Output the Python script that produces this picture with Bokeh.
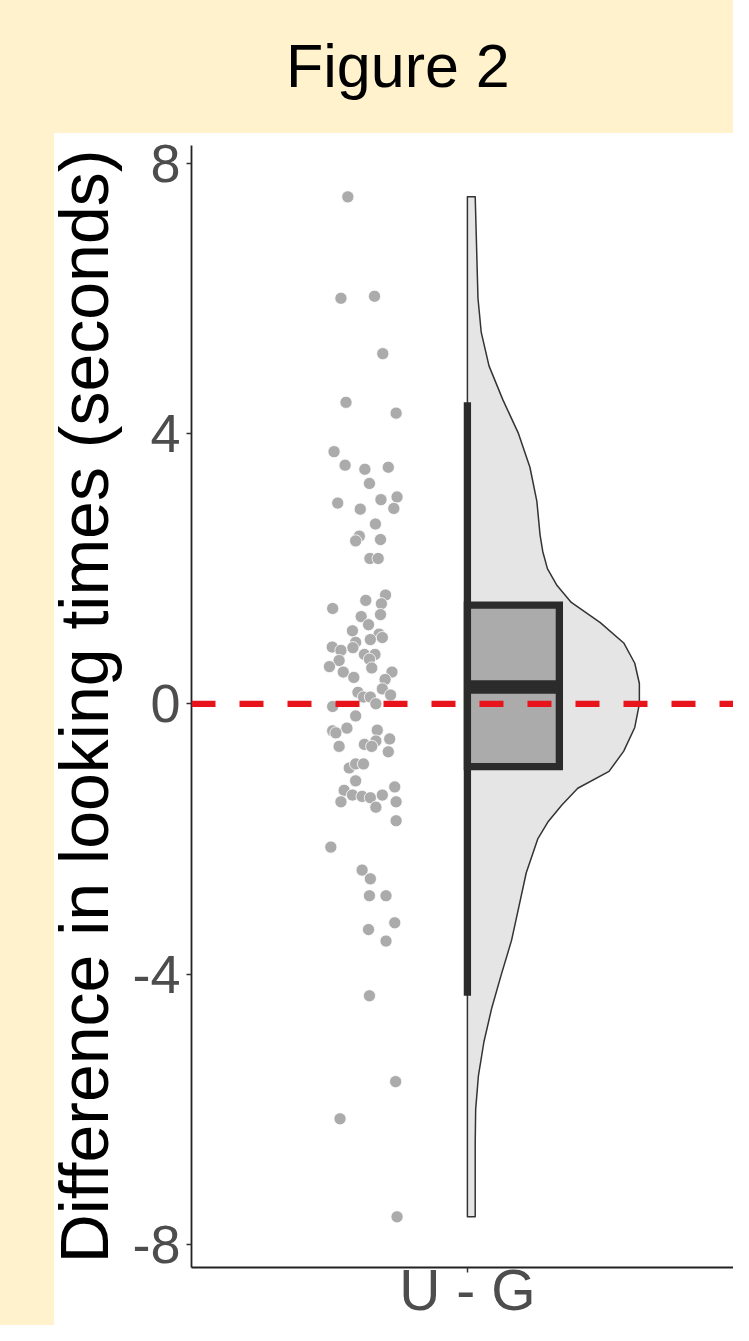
import numpy as np
from bokeh.plotting import figure
from bokeh.models import Range1d, FixedTicker, Span, Div
from bokeh.layouts import column, row
from bokeh.embed import file_html
from bokeh.resources import INLINE

# ---------------- data ----------------
title_text = "Figure 2"
categories = ["U - G"]
y_label = "Difference in looking times (seconds)"
y_ticks = [-8, -4, 0, 4, 8]
y_tick_labels = ["-8", "-4", "0", "4", "8"]

# raw observations (jittered x position on the category axis, value)
pt_x = [0.740, 0.725, 0.798, 0.816, 0.736, 0.845, 0.710, 0.734, 0.777, 0.828,
        0.787, 0.718, 0.767, 0.812, 0.847, 0.840, 0.800, 0.765, 0.757, 0.811,
        0.788, 0.806, 0.822, 0.779, 0.813, 0.707, 0.811, 0.769, 0.785, 0.750,
        0.808, 0.815, 0.789, 0.757, 0.706, 0.725, 0.751, 0.776, 0.799, 0.787,
        0.721, 0.700, 0.792, 0.730, 0.753, 0.836, 0.821, 0.815, 0.762, 0.774,
        0.789, 0.833, 0.801, 0.707, 0.757, 0.707, 0.738, 0.714, 0.804, 0.831,
        0.801, 0.721, 0.776, 0.792, 0.828, 0.743, 0.757, 0.774, 0.757, 0.732,
        0.750, 0.771, 0.789, 0.815, 0.842, 0.725, 0.801, 0.845, 0.845, 0.703,
        0.771, 0.789, 0.787, 0.823, 0.842, 0.785, 0.823, 0.787, 0.844, 0.723,
        0.847]
pt_value = [7.50, 6.00, 6.03, 5.18, 4.46, 4.30, 3.73, 3.53, 3.47, 3.50,
            3.26, 2.97, 2.88, 3.02, 3.06, 2.89, 2.66, 2.48, 2.41, 2.43,
            2.15, 2.15, 1.61, 1.53, 1.48, 1.41, 1.32, 1.29, 1.17, 1.08,
            1.03, 0.98, 0.95, 0.91, 0.84, 0.79, 0.83, 0.73, 0.73, 0.66,
            0.64, 0.55, 0.53, 0.47, 0.39, 0.47, 0.36, 0.22, 0.17, 0.10,
            0.10, 0.13, 0.00, -0.04, -0.18, -0.40, -0.36, -0.43, -0.39, -0.52,
            -0.55, -0.63, -0.60, -0.63, -0.71, -0.95, -0.89, -0.89, -1.14, -1.28,
            -1.35, -1.37, -1.39, -1.35, -1.23, -1.45, -1.53, -1.45, -1.73, -2.12,
            -2.46, -2.59, -2.84, -2.84, -3.24, -3.34, -3.51, -4.32, -5.59, -6.14,
            -7.59]

# box-plot statistics
box_q1 = -0.93
box_median = 0.25
box_q3 = 1.46
whisker_low = -4.32
whisker_high = 4.46
box_width = 0.2

# half-violin (density outline): value and half-width on the category axis
violin_y = [7.50, 7.0, 6.5, 6.0, 5.5, 5.0, 4.5, 4.0, 3.5, 3.0, 2.5, 2.25, 2.0,
            1.75, 1.5, 1.2, 0.9, 0.6, 0.3, 0.0, -0.35, -0.7, -1.0, -1.25, -1.5,
            -1.75, -2.0, -2.5, -3.0, -3.5, -4.0, -4.5, -5.0, -5.5, -6.0, -6.5,
            -7.0, -7.59]
violin_half = [0.017, 0.019, 0.021, 0.023, 0.030, 0.047, 0.077, 0.111, 0.136,
               0.151, 0.158, 0.164, 0.174, 0.195, 0.226, 0.289, 0.340, 0.364,
               0.374, 0.374, 0.364, 0.340, 0.308, 0.240, 0.205, 0.175, 0.153,
               0.128, 0.112, 0.096, 0.074, 0.053, 0.036, 0.024, 0.018, 0.017,
               0.017, 0.017]

reference_value = 0

# ---------------- figure ----------------
CREAM = "#FFF2CC"
FONT = "Liberation Sans"
STRIP = "linear-gradient(to right, #FFF2CC 0px, #FFF2CC 54px, #FFFFFF 54px, #FFFFFF 100%)"
cat_pos = 1.0
x_start, x_end = 0.4, 1.5787
y_start, y_end = -8.34, 8.26

p = figure(width=733, height=1192,
           x_range=Range1d(x_start, x_end), y_range=Range1d(y_start, y_end),
           output_backend="svg", toolbar_location=None,
           min_border_left=191, min_border_right=0,
           min_border_top=12, min_border_bottom=58,
           background_fill_color="white", border_fill_color=None,
           outline_line_color=None, styles={"background": STRIP})
p.grid.visible = False

# half violin
vx = [cat_pos + w for w in violin_half] + [cat_pos, cat_pos]
vy = list(violin_y) + [violin_y[-1], violin_y[0]]
p.patch(vx, vy, fill_color="#E5E5E5", line_color="#333333", line_width=1.5,
        line_join="round")

# box plot
p.segment(x0=[cat_pos], y0=[whisker_low], x1=[cat_pos], y1=[whisker_high],
          line_color="#2B2B2B", line_width=7.3, line_cap="butt")
p.quad(left=[cat_pos], right=[cat_pos + box_width], bottom=[box_q1], top=[box_q3],
       fill_color="#ABABAB", line_color="#2B2B2B", line_width=7.3,
       line_join="miter")
p.segment(x0=[cat_pos], y0=[box_median], x1=[cat_pos + box_width], y1=[box_median],
          line_color="#2B2B2B", line_width=13.5, line_cap="butt")

# raw points
p.scatter(x=pt_x, y=pt_value, size=12.2, fill_color="#ABABAB",
          line_color="white", line_width=0.8)

# reference line
p.add_layout(Span(location=reference_value, dimension="width",
                  line_color="#E8141B", line_width=6.3, line_dash="24 24"))

# axes
xa = p.xaxis[0]
xa.ticker = FixedTicker(ticks=[cat_pos])
xa.major_label_overrides = {cat_pos: categories[0]}
ya = p.yaxis[0]
ya.ticker = FixedTicker(ticks=y_ticks)
ya.major_label_overrides = dict(zip(y_ticks, y_tick_labels))
ya.axis_label = y_label
ya.axis_label_text_font = FONT
ya.axis_label_text_font_size = "68px"
ya.axis_label_text_font_style = "normal"
ya.axis_label_text_color = "black"
ya.axis_label_standoff = 7
for ax in (xa, ya):
    ax.axis_line_color = "#222222"
    ax.axis_line_width = 1.8
    ax.major_tick_line_color = "#333333"
    ax.major_tick_line_width = 1.5
    ax.major_tick_in = 0
    ax.major_tick_out = 5
    ax.minor_tick_line_color = None
    ax.major_label_text_font = FONT
    ax.major_label_text_color = "#4D4D4D"
    ax.major_label_text_line_height = 1.0
ya.major_label_text_font_size = "54px"
xa.major_label_text_font_size = "57px"
ya.major_label_standoff = 6
xa.major_label_standoff = -15

title_div = Div(
    text=(f'<div style="font-family:\'{FONT}\',Arial,sans-serif;font-size:61px;'
          f'line-height:61px;color:#000;padding-left:286px;padding-top:36px;'
          f'white-space:nowrap;">{title_text}</div>'),
    width=733, height=133, margin=(0, 0, 0, 0),
    styles={"background-color": CREAM})

layout = column(title_div, row(p, spacing=0, styles={"background": STRIP}),
                spacing=0, styles={"background": STRIP})

open("out.html", "w").write(file_html(layout, INLINE))
